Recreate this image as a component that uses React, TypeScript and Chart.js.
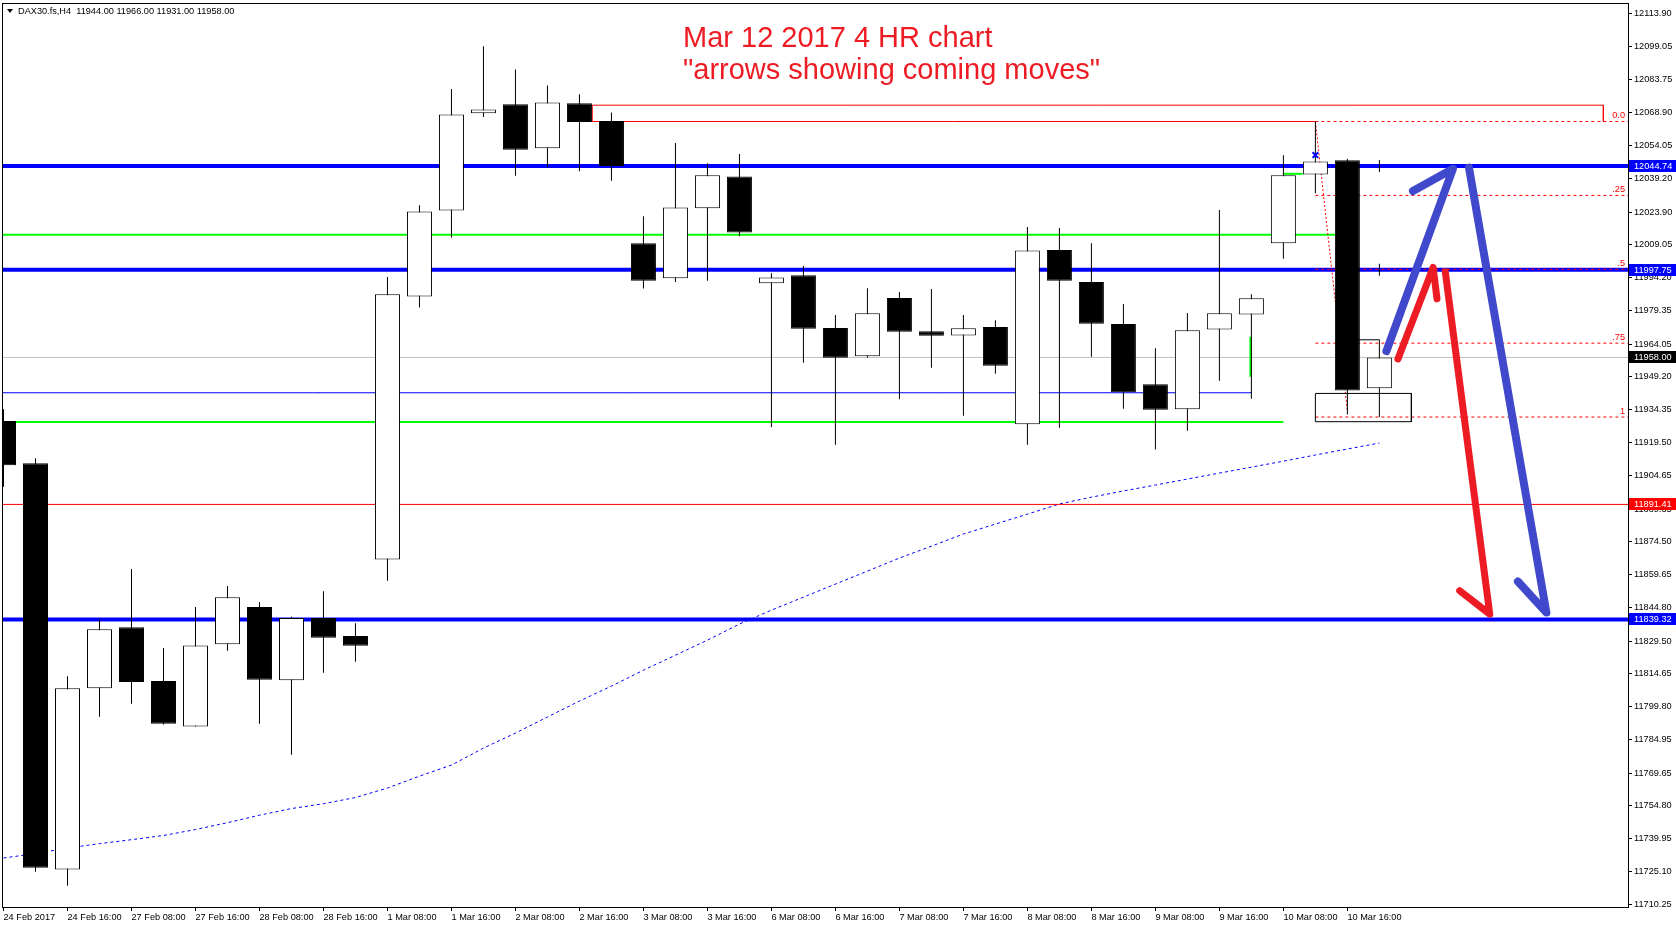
import { useEffect, useRef } from 'react'
import { Chart, registerables } from 'chart.js'

Chart.register(...registerables)

// x-axis labels, one per 2 H4 bars
const timeLabels = [
  '24 Feb 2017', '24 Feb 16:00', '27 Feb 08:00', '27 Feb 16:00', '28 Feb 08:00', '28 Feb 16:00',
  '1 Mar 08:00', '1 Mar 16:00', '2 Mar 08:00', '2 Mar 16:00', '3 Mar 08:00', '3 Mar 16:00',
  '6 Mar 08:00', '6 Mar 16:00', '7 Mar 08:00', '7 Mar 16:00', '8 Mar 08:00', '8 Mar 16:00',
  '9 Mar 08:00', '9 Mar 16:00', '10 Mar 08:00', '10 Mar 16:00',
]

// right axis labels as shown by the terminal
const priceTicks = [
  12113.9, 12099.05, 12083.75, 12068.9, 12054.05, 12039.2, 12023.9, 12009.05, 11994.2, 11979.35,
  11964.05, 11949.2, 11934.35, 11919.5, 11904.65, 11889.35, 11874.5, 11859.65, 11844.8, 11829.5,
  11814.65, 11799.8, 11784.95, 11769.65, 11754.8, 11739.95, 11725.1, 11710.25,
]

// DAX30 H4 candles
const opens = [
  11929.2, 11910.1, 11726.0, 11808.1, 11835.8, 11811.4, 11790.8, 11828.0, 11844.9, 11811.7, 11839.9,
  11831.8, 11866.5, 11985.6, 12024.6, 12068.6, 12072.7, 12052.8, 12073.2, 12065.1, 12009.7, 11993.9,
  12025.6, 12040.0, 11991.6, 11995.3, 11971.3, 11958.5, 11984.9, 11969.9, 11968.0, 11971.8, 11927.7,
  12006.7, 11992.2, 11973.1, 11945.9, 11934.5, 11970.7, 11977.5, 12009.7, 12040.9, 12047.4, 11944.0,
]
const highs = [
  11934.5, 11912.3, 11813.6, 11839.3, 11862.1, 11826.3, 11844.9, 11854.4, 11847.2, 11840.5, 11852.1,
  11837.6, 11994.4, 12027.0, 12079.6, 12099.0, 12088.5, 12081.2, 12077.2, 12069.0, 12022.0, 12055.2,
  12046.0, 12050.2, 11996.1, 11999.4, 11977.2, 11989.4, 11987.6, 11989.0, 11977.2, 11974.9, 12017.1,
  12016.6, 12009.8, 11982.2, 11962.2, 11978.1, 12024.8, 11986.6, 12049.6, 12064.9, 12048.0, 11966.0,
]
const lows = [
  11899.4, 11725.0, 11718.6, 11795.2, 11801.1, 11791.7, 11790.8, 11825.1, 11792.0, 11778.0, 11815.1,
  11820.1, 11856.8, 11980.6, 12012.3, 12067.0, 12040.3, 12044.3, 12042.4, 12038.1, 11989.2, 11992.2,
  11992.7, 12012.9, 11926.4, 11955.6, 11918.4, 11957.9, 11939.1, 11953.3, 11931.6, 11950.6, 11918.4,
  11926.1, 11958.3, 11934.7, 11916.3, 11924.8, 11947.4, 11939.3, 12002.7, 12032.4, 11932.1, 11931.0,
]
const closes = [
  11909.2, 11726.8, 11808.1, 11834.8, 11811.0, 11792.0, 11827.5, 11849.3, 11812.0, 11839.9, 11831.0,
  11827.4, 11986.6, 12024.1, 12068.1, 12070.4, 12052.1, 12073.5, 12064.7, 12044.8, 11992.7, 12025.9,
  12040.5, 12014.6, 11994.2, 11971.0, 11957.9, 11978.0, 11969.6, 11967.8, 11971.2, 11954.2, 12006.5,
  11992.7, 11973.3, 11942.2, 11934.3, 11970.3, 11978.0, 11984.8, 12040.5, 12046.8, 11943.0, 11958.0,
]

// moving average (blue dotted)
const maValues = [
  11731.2, 11733.2, 11735.7, 11737.7, 11739.5, 11741.4, 11744.1, 11747.2, 11750.6, 11753.6, 11755.8,
  11758.6, 11762.9, 11768.3, 11773.3, 11781.0, 11787.8, 11795.1, 11802.3, 11809.1, 11816.3, 11823.1,
  11829.9, 11837.2, 11843.5, 11849.4, 11855.3, 11861.2, 11867.1, 11872.5, 11878.0, 11882.5, 11887.0,
  11891.6, 11894.7, 11897.5, 11900.2, 11902.9, 11905.6, 11908.3, 11911.0, 11913.8, 11916.5, 11919.2,
]

// horizontal levels
const blueLevels = [12044.74, 11997.75, 11839.32]
const redLevel = 11891.41
const lastPrice = 11958.0
const greenUpper = { price: 12013.6, from: -1, to: 42 }
const greenLower = { price: 11928.7, from: -1, to: 40 }
const thinBlue = { price: 11942.0, from: -1, to: 39 }

// fibo retracement (0.0 -> 1)
const fibHigh = 12064.9
const fibLow = 11931.0
const fibRatios = [0, 0.25, 0.5, 0.75, 1]
const fibTexts = ['0.0', '.25', '.5', '.75', '1']
const fibStart = 41

// drawn objects
const redBox = [
  { x: 41, y: 12064.9 }, { x: 18.4, y: 12064.9 }, { x: 18.4, y: 12072.3 },
  { x: 50, y: 12072.3 }, { x: 50, y: 12064.9 },
]
const blackBox = [
  { x: 41, y: 11941.7 }, { x: 44, y: 11941.7 }, { x: 44, y: 11928.9 },
  { x: 41, y: 11928.9 }, { x: 41, y: 11941.7 },
]
const fibDiagonal = [{ x: 41, y: 12064.9 }, { x: 42, y: 11933.7 }]
const greenBits = [
  [{ x: 38.97, y: 11967.4 }, { x: 38.97, y: 11949.2 }],
  [{ x: 40, y: 12041.2 }, { x: 40.6, y: 12041.2 }],
]
const boxTop = [{ x: 42, y: 11966.0 }, { x: 43, y: 11966.0 }]
const blueX = [{ x: 41, y: 12049.7 }]
const lineTicks = [{ x: 43, y: 12044.74 }, { x: 43, y: 11997.75 }]

// hand-drawn arrows: start, tip, barb
const blueUp = [{ x: 43.22, y: 11960.9 }, { x: 45.3, y: 12043.5 }, { x: 44.05, y: 12033.4 }]
const blueDown = [{ x: 45.8, y: 12044.0 }, { x: 48.22, y: 11842.4 }, { x: 47.33, y: 11856.5 }]
const redUp = [{ x: 43.58, y: 11957.3 }, { x: 44.68, y: 11998.8 }, { x: 44.8, y: 11984.6 }]
const redDown = [{ x: 45.06, y: 11996.8 }, { x: 46.45, y: 11841.7 }, { x: 45.51, y: 11852.3 }]

// axis price tags
const axisTags = [
  { price: 12044.74, bg: '#0000ff' },
  { price: 11997.75, bg: '#0000ff' },
  { price: 11958.0, bg: '#000000' },
  { price: 11891.41, bg: '#ff0000' },
  { price: 11839.32, bg: '#0000ff' },
]

const X_MIN = -0.047
const X_MAX = 50.77
const Y_MIN = 11709.0
const Y_MAX = 12118.6
const FONT = '"Liberation Sans", Arial, sans-serif'

function segment(data: any[], color: string, width: number, order: number, dash: number[] = []) {
  return {
    type: 'line' as const,
    data,
    borderColor: color,
    borderWidth: width,
    borderDash: dash,
    pointRadius: 0,
    fill: false,
    tension: 0,
    order,
  }
}

function hline(price: number, from: number, to: number, color: string, width: number, order: number, dash: number[] = []) {
  return segment([{ x: from, y: price }, { x: to, y: price }], color, width, order, dash)
}

function arrow(data: any[], color: string, width: number) {
  return {
    ...segment(data, color, width, 0),
    borderCapStyle: 'round',
    borderJoinStyle: 'round',
  }
}

const overlayPlugin = {
  id: 'mt4Overlay',
  afterDatasetsDraw(chart: any) {
    const { ctx, chartArea, scales } = chart
    ctx.save()
    ctx.font = `9.2px ${FONT}`
    ctx.fillStyle = '#ff0000'
    ctx.textAlign = 'right'
    ctx.textBaseline = 'middle'
    fibRatios.forEach((r, i) => {
      const y = scales.y.getPixelForValue(fibHigh - r * (fibHigh - fibLow))
      ctx.fillText(fibTexts[i], chartArea.right - 3, y - 6)
    })
    ctx.restore()
  },
  afterDraw(chart: any) {
    const { ctx, chartArea, scales } = chart
    ctx.save()
    ctx.strokeStyle = '#000'
    ctx.lineWidth = 1
    ctx.strokeRect(chartArea.left + 0.5, chartArea.top + 0.5, chartArea.right - chartArea.left, chartArea.bottom - chartArea.top)
    ctx.font = `9.2px ${FONT}`
    ctx.textAlign = 'left'
    ctx.textBaseline = 'middle'
    axisTags.forEach((t) => {
      const y = Math.round(scales.y.getPixelForValue(t.price))
      ctx.fillStyle = t.bg
      ctx.fillRect(chartArea.right + 1, y - 6, 48, 12)
      ctx.fillStyle = '#fff'
      ctx.fillText(t.price.toFixed(2), chartArea.right + 6, y)
    })
    ctx.restore()
  },
}

export default function App() {
  const canvasRef = useRef<HTMLCanvasElement>(null)
  const chartRef = useRef<Chart | null>(null)

  useEffect(() => {
    if (!canvasRef.current) return

    if (chartRef.current) {
      chartRef.current.destroy()
    }

    const ctx = canvasRef.current.getContext('2d')
    if (!ctx) return

    const idx = opens.map((_, i) => i)
    const fibLines = fibRatios.map((r) =>
      hline(fibHigh - r * (fibHigh - fibLow), fibStart, X_MAX + 1, '#ff0000', 1, 6, [3, 3])
    )

    const datasets: any[] = [
      arrow(blueUp, '#4048cc', 8),
      arrow(blueDown, '#4048cc', 8),
      arrow(redUp, '#ed1c24', 7),
      arrow(redDown, '#ed1c24', 7),
      {
        type: 'scatter',
        data: blueX,
        pointStyle: 'crossRot',
        pointRadius: 4,
        borderColor: '#0000ff',
        borderWidth: 2,
        order: 1,
      },
      {
        type: 'scatter',
        data: lineTicks,
        pointStyle: 'line',
        rotation: 90,
        pointRadius: 6,
        borderColor: '#000',
        borderWidth: 1,
        order: 1,
      },
      {
        type: 'bar',
        data: idx.map((i) => ({ x: i, y: [opens[i], closes[i]] })),
        backgroundColor: idx.map((i) => (closes[i] >= opens[i] ? '#ffffff' : '#000000')),
        borderColor: '#000000',
        borderWidth: 1,
        borderSkipped: false,
        barThickness: 25,
        grouped: false,
        inflateAmount: 0,
        order: 2,
      },
      {
        type: 'bar',
        data: idx.map((i) => ({ x: i, y: [lows[i], highs[i]] })),
        backgroundColor: '#000000',
        borderWidth: 0,
        barThickness: 1,
        grouped: false,
        inflateAmount: 0,
        order: 3,
      },
      segment(boxTop, '#000', 1, 4),
      segment(blackBox, '#000', 1, 4),
      segment(redBox, '#ff0000', 1, 5),
      segment(fibDiagonal, '#ff0000', 1, 5, [2, 2]),
      ...fibLines,
      ...greenBits.map((g) => segment(g, '#00ff00', 2, 6)),
      ...blueLevels.map((p) => hline(p, X_MIN - 1, X_MAX + 1, '#0000ff', 4, 7)),
      hline(greenUpper.price, greenUpper.from, greenUpper.to, '#00ff00', 2, 8),
      hline(greenLower.price, greenLower.from, greenLower.to, '#00ff00', 2, 8),
      hline(thinBlue.price, thinBlue.from, thinBlue.to, '#0000ff', 1, 8),
      hline(redLevel, X_MIN - 1, X_MAX + 1, '#ff0000', 1, 8),
      hline(lastPrice, X_MIN - 1, X_MAX + 1, '#c0c0c0', 1, 9),
      segment(idx.map((i) => ({ x: i, y: maValues[i] })), '#0000ff', 1, 9, [3, 3]),
    ]

    chartRef.current = new Chart(ctx, {
      type: 'bar',
      data: { datasets },
      options: {
        responsive: true,
        maintainAspectRatio: false,
        animation: false,
        events: [],
        layout: { autoPadding: false, padding: { left: 2, top: 3, right: 0, bottom: 0 } },
        plugins: {
          legend: { display: false },
          tooltip: { enabled: false },
          title: { display: false },
        },
        scales: {
          x: {
            type: 'linear',
            min: X_MIN,
            max: X_MAX,
            offset: false,
            afterBuildTicks: (s: any) => {
              s.ticks = timeLabels.map((_, k) => ({ value: k * 2 }))
            },
            afterFit: (s: any) => {
              s.height = 21
              s.paddingLeft = 0
              s.paddingRight = 0
            },
            ticks: {
              callback: (v: any) => timeLabels[Math.round(Number(v) / 2)] ?? '',
              align: 'start',
              maxRotation: 0,
              minRotation: 0,
              autoSkip: false,
              color: '#000',
              padding: 1,
              font: { family: FONT, size: 9.2 },
            },
            grid: { offset: false, drawOnChartArea: false, drawTicks: true, tickLength: 4, color: '#000' },
            border: { display: false },
          },
          y: {
            type: 'linear',
            position: 'right',
            min: Y_MIN,
            max: Y_MAX,
            afterBuildTicks: (s: any) => {
              s.ticks = priceTicks.map((v) => ({ value: v }))
            },
            afterFit: (s: any) => {
              s.width = 48
              s.paddingTop = 0
              s.paddingBottom = 0
            },
            ticks: {
              callback: (v: any) => Number(v).toFixed(2),
              autoSkip: false,
              color: '#000',
              padding: 2,
              font: { family: FONT, size: 9.2 },
            },
            grid: { drawOnChartArea: false, drawTicks: true, tickLength: 4, color: '#000' },
            border: { display: false },
          },
        },
      } as any,
      plugins: [overlayPlugin],
    })

    return () => {
      if (chartRef.current) {
        chartRef.current.destroy()
        chartRef.current = null
      }
    }
  }, [])

  return (
    <div style={{ position: 'fixed', left: 0, top: 0, width: 1676, height: 928, background: '#fff' }}>
      <div style={{ position: 'absolute', left: 0, top: 0, width: 1676, height: 928 }}>
        <canvas ref={canvasRef} />
      </div>
      <div
        style={{
          position: 'absolute',
          left: 7,
          top: 9,
          width: 0,
          height: 0,
          borderLeft: '3px solid transparent',
          borderRight: '3px solid transparent',
          borderTop: '4px solid #000',
        }}
      />
      <div
        style={{
          position: 'absolute',
          left: 18,
          top: 6,
          font: `9.2px ${FONT}`,
          lineHeight: '10px',
          whiteSpace: 'pre',
          color: '#000',
        }}
      >
        DAX30.fs,H4  11944.00 11966.00 11931.00 11958.00
      </div>
      <div
        style={{
          position: 'absolute',
          left: 683,
          top: 21,
          font: `29px ${FONT}`,
          lineHeight: '32px',
          color: '#ed1c24',
          whiteSpace: 'pre',
        }}
      >
        {'Mar 12 2017 4 HR chart\n"arrows showing coming moves"'}
      </div>
    </div>
  )
}
